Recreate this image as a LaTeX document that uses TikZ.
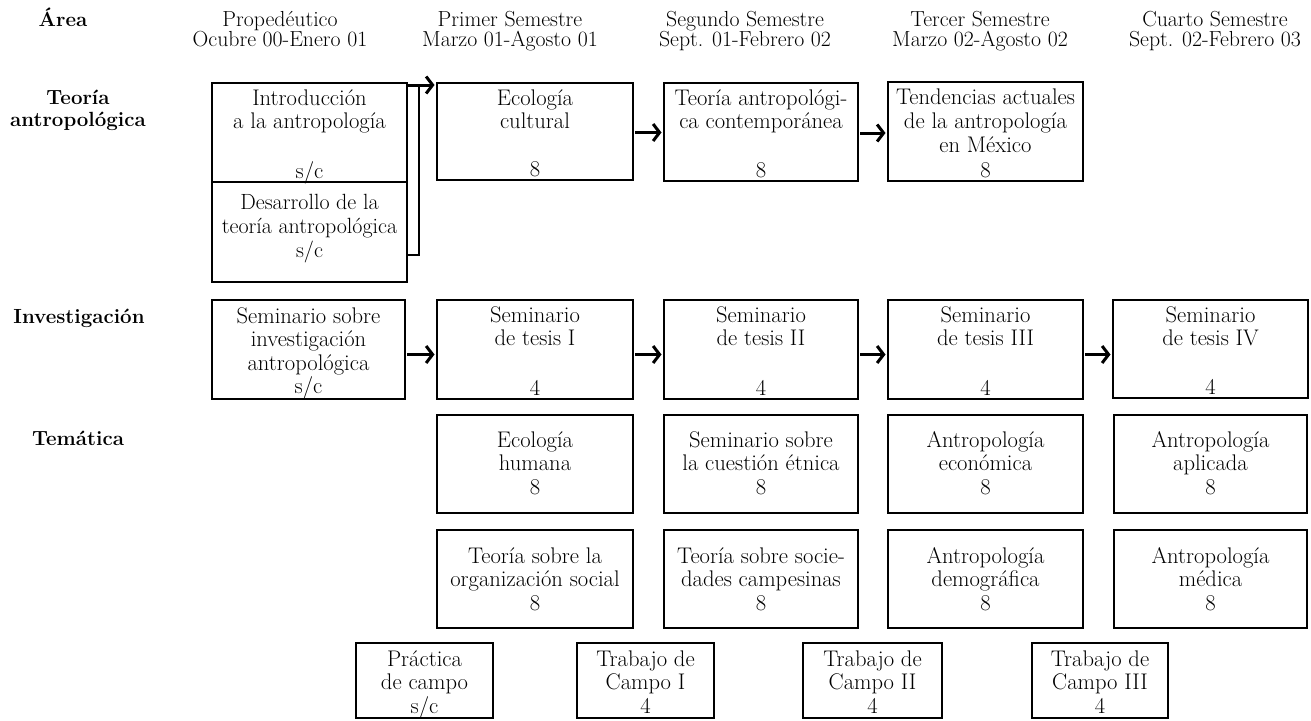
\documentclass[tikz,border=0pt]{standalone}
\usetikzlibrary{arrows.meta,calc}
\newcommand\fl{\rule{0pt}{16pt}}
\newcommand\hr{\rule{0pt}{15pt}}
\newcommand\mkbox[5]{\node[box, minimum width={(#4-#2)*1pt}, minimum height={(#5-#3)*1pt}] (#1) at ({(#2+#4)/2},{-(#3+#5)/2}) {};}
\newcommand\bt[3]{\node[txt,anchor=north] (#1t) at ($(#1.north)+(0,-#2)$) {\fl #3};}
\newcommand\bn[2]{\node[txt,anchor=base] (#1n) at ($(#1.south)+(0,4)$) {#2};}
\begin{document}
\begin{tikzpicture}[x=1pt,y=1pt,
  box/.style={draw=black, line width=1.3pt, inner sep=0pt, outer sep=0pt, rectangle},
  txt/.style={align=center, inner sep=0pt, font=\fontsize{22.6}{23.5}\selectfont},
  hdr/.style={align=center, inner sep=0pt, font=\fontsize{21.8}{20}\selectfont, anchor=north},
  lab/.style={align=center, inner sep=0pt, font=\bfseries\fontsize{20.5}{22}\selectfont},
  arr/.style={line width=3pt, -{Straight Barb[length=6.5pt,width=17pt]}, shorten <=2pt, shorten >=2.5pt},
  brk/.style={line width=1.2pt}]
\useasboundingbox (0,0) rectangle (1311,-720);

% headers
\node[hdr] (h0) at (280,-11) {\hr Propedéutico\\Ocubre 00-Enero 01};
\node[hdr] (h1) at (510,-11) {\hr Primer Semestre\\Marzo 01-Agosto 01};
\node[hdr] (h2) at (745,-11) {\hr Segundo Semestre\\Sept. 01-Febrero 02};
\node[hdr] (h3) at (980,-11) {\hr Tercer Semestre\\Marzo 02-Agosto 02};
\node[hdr] (h4) at (1215,-11) {\hr Cuarto Semestre\\Sept. 02-Febrero 03};

% row labels
\node[lab,anchor=base] (lArea) at (63,-26) {Área};
\node[lab,anchor=north] (lTeo) at (78,-88) {\fl Teoría\\antropológica};
\node[lab,anchor=base] (lInv) at (79,-323) {Investigación};
\node[lab,anchor=base] (lTem) at (78,-445) {Temática};

% boxes
\mkbox{intro}{212}{83}{407}{182}
\mkbox{desa}{212}{182}{407}{282}
\mkbox{ecc}{437}{83}{633}{180}
\mkbox{tac}{664}{83}{858}{181}
\mkbox{tend}{888}{82}{1083}{181}
\mkbox{sinv}{212}{300}{405}{399}
\mkbox{st1}{437}{300}{633}{399}
\mkbox{st2}{664}{300}{858}{399}
\mkbox{st3}{888}{300}{1083}{399}
\mkbox{st4}{1113}{300}{1308}{398}
\mkbox{eh}{437}{415}{633}{513}
\mkbox{ce}{664}{415}{858}{513}
\mkbox{ae}{888}{415}{1083}{513}
\mkbox{aa}{1114}{415}{1307}{513}
\mkbox{os}{437}{530}{633}{628}
\mkbox{sc}{664}{530}{858}{628}
\mkbox{ad}{888}{530}{1083}{628}
\mkbox{am}{1114}{530}{1307}{628}
\mkbox{pc}{356}{643}{493}{718}
\mkbox{tc1}{577}{643}{714}{718}
\mkbox{tc2}{803}{643}{942}{718}
\mkbox{tc3}{1032}{643}{1168}{718}

% box texts
\bt{intro}{6}{Introducción\\a la antropología} \bn{intro}{s/c}
\node[txt,anchor=north,font=\fontsize{22}{24}\selectfont] (desat) at ($(desa.north)+(0,-11)$) {\fl Desarrollo de la\\teoría antropológica\\s/c};
\bt{ecc}{6}{Ecología\\cultural} \bn{ecc}{8}
\bt{tac}{6}{Teoría antropológi-\\ca contemporánea} \bn{tac}{8}
\node[txt,anchor=north,font=\fontsize{22.6}{24.3}\selectfont] (tendt) at ($(tend.north)+(0,-6)$) {\fl Tendencias actuales\\de la antropología\\en México\\8};
\bt{sinv}{7}{Seminario sobre\\investigación\\antropológica\\s/c}
\bt{st1}{6}{Seminario\\de tesis I} \bn{st1}{4}
\bt{st2}{6}{Seminario\\de tesis II} \bn{st2}{4}
\bt{st3}{6}{Seminario\\de tesis III} \bn{st3}{4}
\bt{st4}{6}{Seminario\\de tesis IV} \bn{st4}{4}
\bt{eh}{16}{Ecología\\humana\\8}
\bt{ce}{16}{Seminario sobre\\la cuestión étnica\\8}
\bt{ae}{16}{Antropología\\económica\\8}
\bt{aa}{16}{Antropología\\aplicada\\8}
\bt{os}{17}{Teoría sobre la\\organización social\\8}
\bt{sc}{17}{Teoría sobre socie-\\dades campesinas\\8}
\bt{ad}{17}{Antropología\\demográfica\\8}
\bt{am}{17}{Antropología\\médica\\8}
\bt{pc}{7}{Práctica\\de campo\\s/c}
\bt{tc1}{7}{Trabajo de\\Campo I\\4}
\bt{tc2}{7}{Trabajo de\\Campo II\\4}
\bt{tc3}{7}{Trabajo de\\Campo III\\4}

% arrows, theory row
\coordinate (a1) at ([yshift=-1pt]ecc.east);
\draw[arr] (a1) -- (a1 -| tac.west);
\coordinate (a2) at ([yshift=-1pt]tac.east);
\draw[arr] (a2) -- (a2 -| tend.west);

% bracket
\coordinate (brT) at (419,-85);
\coordinate (brB) at (419,-255);
\draw[brk] (desa.east |- brB) -- (brB) -- (brT);
\draw[arr, shorten <=0pt] (intro.east |- brT) -- (brT -| ecc.west);

% arrows, research row
\coordinate (r0) at ([yshift=-5pt]sinv.east);
\draw[arr] (r0) -- (r0 -| st1.west);
\coordinate (r1) at ([yshift=-5pt]st1.east);
\draw[arr] (r1) -- (r1 -| st2.west);
\coordinate (r2) at ([yshift=-5pt]st2.east);
\draw[arr] (r2) -- (r2 -| st3.west);
\coordinate (r3) at ([yshift=-5pt]st3.east);
\draw[arr] (r3) -- (r3 -| st4.west);
\end{tikzpicture}
\end{document}
